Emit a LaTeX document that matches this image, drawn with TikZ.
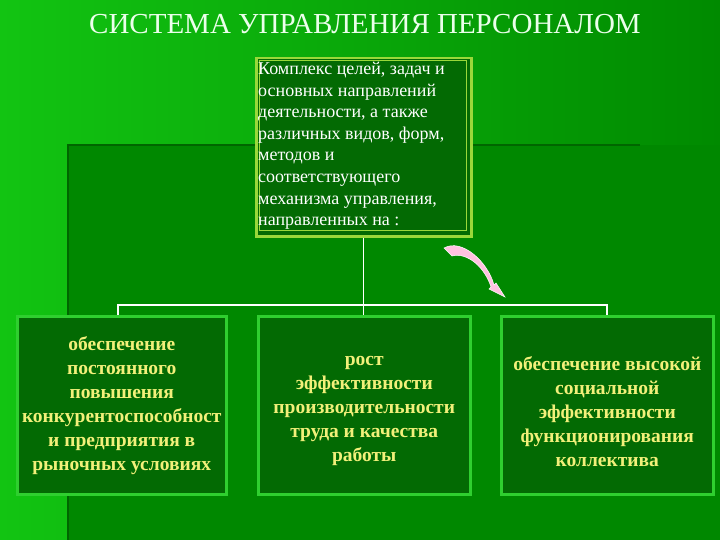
\documentclass[tikz,border=0pt]{standalone}
\usepackage{fontspec}
\setmainfont{Liberation Serif}
\definecolor{bgL}{HTML}{12C412}
\definecolor{bgR}{HTML}{008A00}
\definecolor{reg}{HTML}{008800}
\definecolor{boxf}{HTML}{036A03}
\definecolor{boxb}{HTML}{2FCF2F}
\definecolor{topb}{HTML}{9AD83A}
\definecolor{ytxt}{HTML}{F2F07A}
\begin{document}
\begin{tikzpicture}[x=1pt,y=-1pt,
 bbox/.style={draw=boxb,line width=2.5pt,fill=boxf,inner sep=0pt,anchor=north west},
 btxt/.style={text=ytxt,font=\bfseries\fontsize{19.5}{24}\selectfont,align=center},
 link/.style={draw=white,line width=1.3pt}]
\useasboundingbox (0,0) rectangle (720,540);
\shade[left color=bgL,right color=bgR] (0,0) rectangle (720,540);
\fill[reg] (68,145) rectangle (720,540);
\draw[black!60!green,line width=2pt] (68,540)--(68,145)--(640,145);
\node[font=\fontsize{29}{32}\selectfont,text=white!92!green] (title) at (365,24) {СИСТЕМА УПРАВЛЕНИЯ ПЕРСОНАЛОМ};
\node[draw=topb,line width=2.5pt,fill=boxf,minimum width=215pt,minimum height=178pt,anchor=north west] (top) at (255,57) {};
\draw[topb,line width=1pt] (259,61) rectangle (466,231);
\node[anchor=north west,text=white,align=left,font=\fontsize{18}{21.6}\selectfont,inner sep=0pt] (toptxt) at (258,62) {Комплекс целей, задач и\\основных направлений\\деятельности, а также\\различных видов, форм,\\методов и\\соответствующего\\механизма управления,\\направленных на :};
\node[bbox,minimum width=209pt,minimum height=178pt] (b1) at (16,315) {};
\node[bbox,minimum width=212pt,minimum height=178pt] (b2) at (257,315) {};
\node[bbox,minimum width=212pt,minimum height=178pt] (b3) at (500,315) {};
\node[btxt] (t1) at (b1.center) {обеспечение\\постоянного\\повышения\\конкурентоспособност\\и предприятия в\\рыночных условиях};
\node[btxt] (t2) at ([yshift=-6]b2.center) {рост\\эффективности\\производительности\\труда и качества\\работы};
\node[btxt] (t3) at ([yshift=-6]b3.center) {обеспечение высокой\\социальной\\эффективности\\функционирования\\коллектива};
\coordinate (hl) at (118,305); \coordinate (hr) at (607,305);
\draw[link] (top.south) -- (top.south |- hl);
\draw[link] (118,315)--(hl)--(hr)--(607,315);
\draw[link] (top.south |- hl) -- ++(0,10);
\fill[pink!80!magenta!60!white,draw=white,line width=0.5pt] (444,248) .. controls (462,238) and (488,262) .. (494,285) -- (496,283) -- (505,297) -- (489,289) -- (491,287) .. controls (485,268) and (468,252) .. (452,256) -- cycle;
\end{tikzpicture}
\end{document}
